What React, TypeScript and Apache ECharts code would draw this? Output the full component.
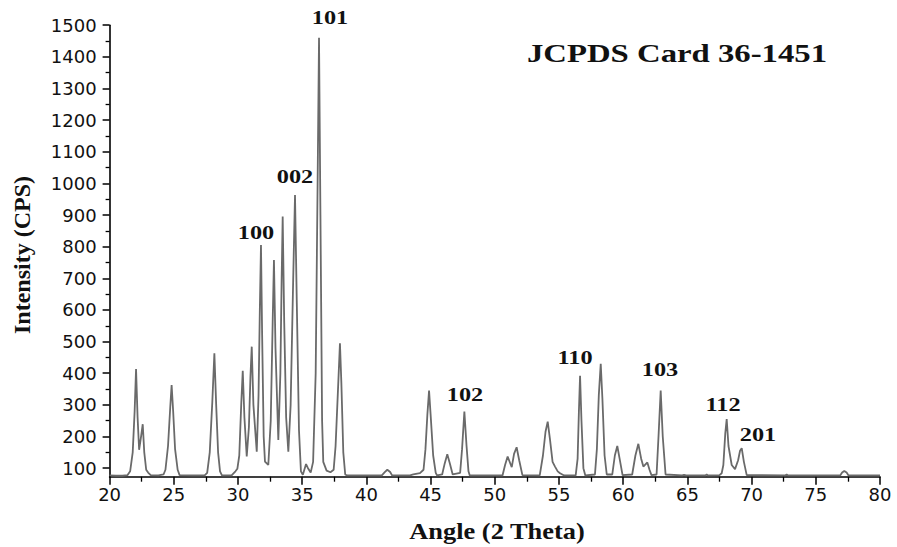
import React, { useEffect, useRef } from "react";
import * as echarts from "echarts";

// 2θ positions (degrees)
const angle2Theta = [
  20, 20.5, 21.0, 21.4,
  21.6, 21.8, 21.95, 22.06, 22.18, 22.3, 22.45, 22.58, 22.7, 22.85, 23.0, 23.2,
  23.8, 24.2,
  24.35, 24.55, 24.72, 24.83, 24.95, 25.1, 25.3, 25.45,
  26.5, 27.4,
  27.6, 27.8, 28.0, 28.16, 28.3, 28.45, 28.6, 28.75,
  29.5, 29.8, 29.95,
  30.1, 30.25, 30.37, 30.5, 30.68,
  30.85, 30.97, 31.07, 31.2, 31.46,
  31.6, 31.7, 31.79, 31.88, 32.0, 32.1, 32.36,
  32.55, 32.7, 32.8, 32.92, 33.14,
  33.3, 33.4, 33.48, 33.6, 33.75, 33.92,
  34.1, 34.3, 34.44, 34.58, 34.75, 34.9, 35.05,
  35.3, 35.45, 35.66,
  35.85, 36.05, 36.2, 36.31, 36.42, 36.55, 36.64, 36.9, 37.2, 37.45,
  37.6, 37.8, 37.94, 38.05, 38.2, 38.35, 38.5,
  41.2, 41.45, 41.63, 41.85, 42.0,
  43.4, 43.65, 44.17, 44.45,
  44.6, 44.75, 44.88, 45.0, 45.2, 45.4, 45.5,
  45.9, 46.1, 46.3, 46.5, 46.72,
  47.3, 47.45, 47.63, 47.8, 47.95, 48.05,
  50.6, 50.8, 51.0, 51.32, 51.5, 51.7, 51.9, 52.15,
  53.5, 53.75, 53.95, 54.12, 54.3, 54.5, 54.69, 54.9, 55.08, 55.4,
  56.3, 56.45, 56.55, 56.64, 56.75, 56.9, 57.05,
  57.8, 57.95, 58.1, 58.25, 58.38, 58.55, 58.72,
  59.15, 59.35, 59.54, 59.72, 59.95,
  60.7, 60.95, 61.18, 61.4, 61.57, 61.88, 62.05, 62.2,
  62.6, 62.75, 62.92, 63.08, 63.3,
  64.6, 64.74, 64.9, 66.4, 66.5, 66.6, 67.5, 67.67,
  67.8, 67.95, 68.06, 68.2, 68.45, 68.71, 68.95, 69.1, 69.23, 69.4, 69.62,
  72.6, 72.73, 72.85, 76.9, 77.05, 77.22, 77.4, 77.55, 80,
];

// Intensity (CPS) at each angle above
const intensityCps = [
  77, 76, 76, 78,
  90, 150, 280, 413, 260, 158, 200, 239, 150, 95, 86, 78,
  77, 80,
  95, 170, 290, 363, 280, 160, 95, 78,
  77, 77,
  85, 150, 310, 463, 300, 150, 90, 77,
  77, 90, 98,
  140, 300, 408, 260, 137,
  230, 390, 484, 300, 152,
  330, 600, 805, 520, 200, 121, 110,
  250, 560, 758, 480, 189,
  400, 700, 895, 560, 260, 152,
  300, 700, 963, 620, 220, 90, 79,
  113, 100, 86,
  120, 400, 1000, 1460, 900, 250, 120, 92, 87, 95,
  170, 360, 495, 370, 150, 80, 77,
  77, 88, 95, 88, 77,
  77, 80, 84, 95,
  160, 270, 345, 270, 140, 85, 77,
  80, 115, 144, 115, 80,
  85, 160, 279, 170, 90, 77,
  77, 110, 137, 103, 145, 166, 125, 78,
  77, 140, 215, 247, 190, 120, 105, 90, 84, 77,
  77, 130, 280, 392, 250, 100, 77,
  80, 160, 330, 430, 320, 140, 80,
  80, 140, 170, 130, 78,
  80, 140, 177, 130, 105, 118, 95, 78,
  80, 200, 345, 200, 80,
  77, 79, 77, 77, 80, 77, 78, 84,
  110, 210, 255, 170, 110, 97, 125, 155, 163, 120, 78,
  77, 80, 77, 77, 86, 91, 86, 77, 77,
];

const yMajorTicks = [100, 200, 300, 400, 500, 600, 700, 800, 900, 1000, 1100, 1200, 1300, 1400, 1500];
const yMinorTicks = [150, 250, 350, 450, 550, 650, 750, 850, 950, 1050, 1150, 1250, 1350, 1450];

const peakLabels = ["101", "002", "100", "102", "110", "103", "112", "201"];
const cardTitle = "JCPDS Card 36-1451";
const xTitle = "Angle (2 Theta)";
const yTitle = "Intensity (CPS)";

// label placement (pixels) — layout only
const peakLabelPos: [number, number][] = [
  [330, 18], [295, 177], [256, 233], [465, 395], [575, 358], [660, 370], [723, 405], [758, 435],
];

const SERIF = '"Liberation Serif", "Times New Roman", serif';
const SANS = '"DejaVu Sans", sans-serif';

export default function App() {
  const ref = useRef<HTMLDivElement>(null);
  useEffect(() => {
    if (!ref.current) return;
    const chart = echarts.init(ref.current, null, { renderer: "svg" });
    const data = angle2Theta.map((a, i) => [a, intensityCps[i]]);
    const graphics: any[] = peakLabels.map((t, i) => ({
      type: "text",
      x: peakLabelPos[i][0],
      y: peakLabelPos[i][1],
      scaleX: 1.35,
      style: {
        text: t,
        font: `bold 18px ${SERIF}`,
        fill: "#111",
        textAlign: "center",
        textVerticalAlign: "middle",
      },
    }));
    graphics.push({
      type: "text",
      x: 677,
      y: 53,
      scaleX: 1.26,
      style: { text: cardTitle, font: `bold 26px ${SERIF}`, fill: "#111", textAlign: "center", textVerticalAlign: "middle" },
    });
    graphics.push({
      type: "text",
      x: 497,
      y: 531,
      scaleX: 1.1,
      style: { text: xTitle, font: `bold 24px ${SERIF}`, fill: "#111", textAlign: "center", textVerticalAlign: "middle" },
    });
    graphics.push({
      type: "text",
      x: 22,
      y: 255,
      rotation: Math.PI / 2,
      style: { text: yTitle, font: `bold 24px ${SERIF}`, fill: "#111", textAlign: "center", textVerticalAlign: "middle" },
    });

    const plain = (v: number) => String(v);

    chart.setOption({
      animation: false,
      backgroundColor: "#fff",
      grid: { left: 109.6, right: 17, top: 25.2, bottom: 70.3, containLabel: false },
      xAxis: {
        type: "value",
        min: 20,
        max: 80,
        interval: 5,
        axisLine: { show: true, onZero: false, lineStyle: { color: "#000", width: 1.6 } },
        axisTick: { show: true, length: 8, lineStyle: { color: "#000", width: 1.5 } },
        minorTick: { show: true, splitNumber: 2, length: 5, lineStyle: { color: "#000", width: 1.3 } },
        axisLabel: { margin: 9, fontSize: 18, fontFamily: SANS, color: "#111", formatter: plain },
        splitLine: { show: false },
        minorSplitLine: { show: false },
      },
      yAxis: [
        {
          type: "value",
          min: 73,
          max: 1500,
          position: "left",
          axisLine: { show: true, lineStyle: { color: "#000", width: 1.6 } },
          axisTick: { show: true, customValues: yMajorTicks, length: 7, lineStyle: { color: "#000", width: 1.5 } },
          axisLabel: { customValues: yMajorTicks, margin: 13, fontSize: 18, fontFamily: SANS, color: "#111", formatter: plain },
          splitLine: { show: false },
        },
        {
          type: "value",
          min: 73,
          max: 1500,
          position: "left",
          axisLine: { show: false },
          axisTick: { show: true, customValues: yMinorTicks, length: 4, lineStyle: { color: "#000", width: 1.3 } },
          axisLabel: { show: false },
          splitLine: { show: false },
        },
      ],
      series: [
        {
          type: "line",
          data,
          xAxisIndex: 0,
          yAxisIndex: 0,
          symbol: "none",
          smooth: false,
          lineStyle: { color: "#6a6a6a", width: 1.8 },
        },
      ],
      graphic: graphics,
    });
    return () => chart.dispose();
  }, []);
  return (
    <div
      ref={ref}
      style={{ position: "fixed", left: 0, top: 0, width: 897, height: 547, background: "#fff" }}
    />
  );
}
